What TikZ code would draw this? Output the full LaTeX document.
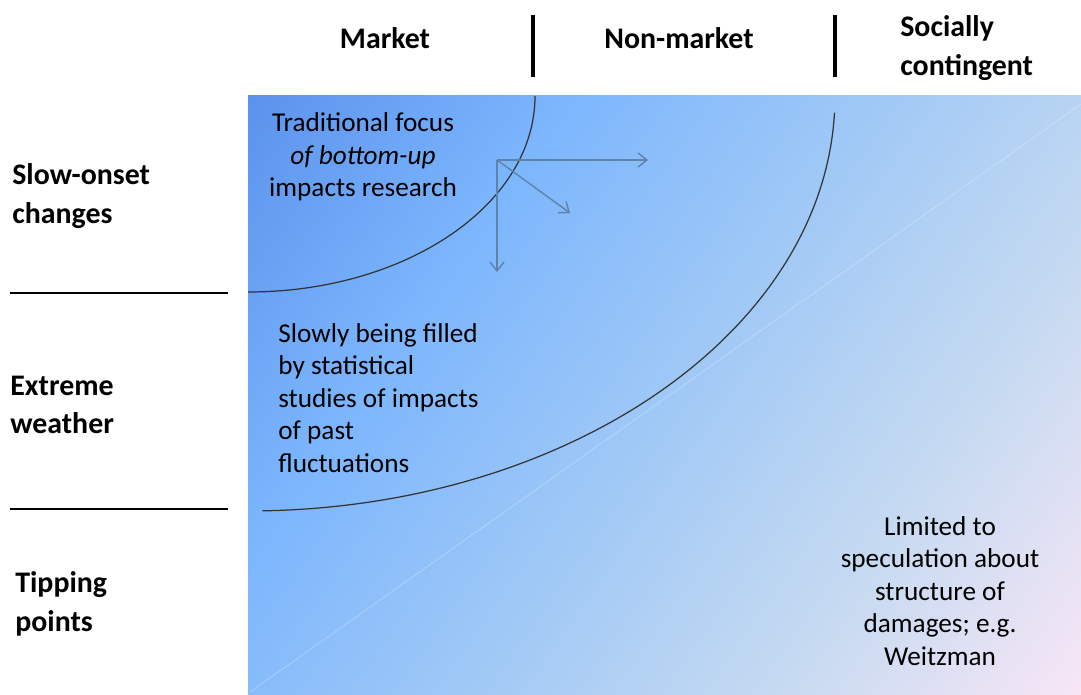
\documentclass[tikz,border=0pt]{standalone}
\usepackage{fontspec}
\setmainfont{Carlito}
\usetikzlibrary{arrows.meta}

\definecolor{topblue}{HTML}{5A92EC}
\definecolor{skyblue}{HTML}{7CB6FD}
\definecolor{lightsky}{HTML}{9FC8F6}
\definecolor{paleblue}{HTML}{C6DAF1}
\definecolor{pinkwhite}{HTML}{F8E6F6}
\definecolor{arrowgray}{HTML}{5F82AA}

% 背景渐变：左上深蓝到右下浅粉
\pgfdeclarehorizontalshading{skyfade}{100bp}{color(0bp)=(topblue); color(15bp)=(topblue); color(33bp)=(skyblue); color(50bp)=(lightsky); color(68bp)=(paleblue); color(85bp)=(pinkwhite); color(100bp)=(pinkwhite)}

\begin{document}
\begin{tikzpicture}[x=0.02cm, y=-0.02cm, every node/.style={font=\fontsize{15.5}{18.5}\selectfont, inner sep=0pt},
    head/.style={font=\fontsize{17}{22}\selectfont\bfseries},
    arcline/.style={black!80, line width=0.7pt},
    flow/.style={arrowgray, line width=0.8pt, -{Straight Barb[length=5pt, width=8pt]}}]
    \useasboundingbox (0,0) rectangle (1081,695);

    % 画渐变底色
    \fill[shading=skyfade, shading angle=-35] (248,96) rectangle (1081,695);
    \draw[white, opacity=0.25, line width=0.5pt] (1081,104) -- (250,692);

    % 列标题和竖线
    \node[head] (market) at (385,38) {Market};
    \node[head] (nonmarket) at (679,38) {Non-market};
    \node[head, align=left, anchor=west] (social) at (900,48) {Socially\\contingent};
    \draw[line width=1.8pt] (533,15) -- (533,77);
    \draw[line width=1.8pt] (835,15) -- (835,77);

    % 行标题和横线
    \node[head, align=left, anchor=west] (slow) at (12,196) {Slow-onset\\changes};
    \node[head, align=left, anchor=west] (extreme) at (10,405) {Extreme\\weather};
    \node[head, align=left, anchor=west] (tipping) at (15,604) {Tipping\\points};
    \draw[line width=1.1pt] (10,293) -- (228,293);
    \draw[line width=1.1pt] (10,509) -- (228,509);

    % 两条椭圆弧
    \draw[arcline] (535,96) arc[start angle=0, end angle=90, x radius=287, y radius=196];
    \draw[arcline] (248,96) ++(2.3:587 and 415) arc[start angle=2.3, end angle=88.6, x radius=587, y radius=415];

    % 各区域说明文字
    \node[align=center] (focus) at (363,157) {Traditional focus\\\textit{of bottom-up}\\impacts research};
    \node[align=left, anchor=west] (filled) at (278,398) {Slowly being filled\\by statistical\\studies of impacts\\of past\\fluctuations};
    \node[align=center] (limited) at (940,591) {Limited to\\speculation about\\structure of\\damages; e.g.\\Weitzman};

    % 三个方向的箭头
    \coordinate (orig) at (497,160);
    \coordinate (eastEnd) at (648,160);
    \coordinate (diagEnd) at (570,213);
    \coordinate (southEnd) at (497,272);
    \draw[flow] (orig) -- (eastEnd);
    \draw[flow] (orig) -- (diagEnd);
    \draw[flow] (orig) -- (southEnd);

\end{tikzpicture}
\end{document}
